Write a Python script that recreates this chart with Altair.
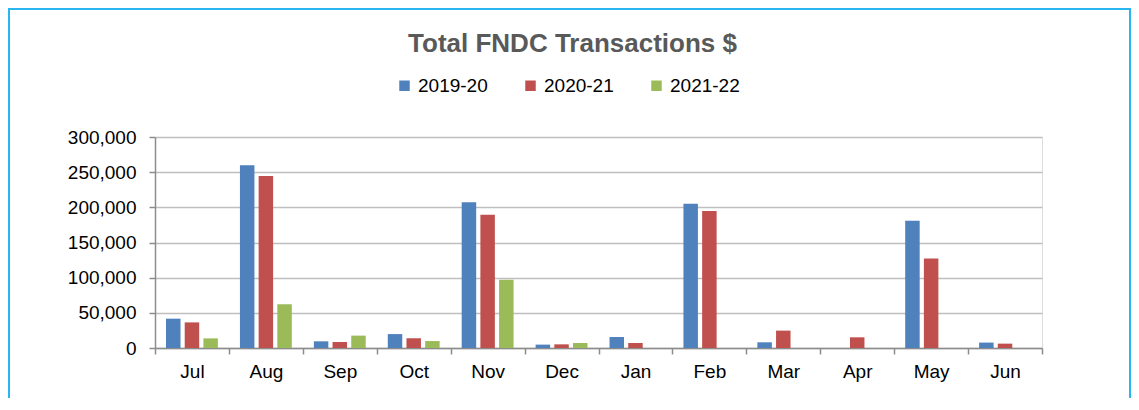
import altair as alt
import pandas as pd

months = ["Jul", "Aug", "Sep", "Oct", "Nov", "Dec", "Jan", "Feb", "Mar", "Apr", "May", "Jun"]
series_names = ["2019-20", "2020-21", "2021-22"]
s2019_20 = [41700, 260000, 9500, 19800, 207400, 4800, 15600, 205000, 8100, None, 181000, 7700]
s2020_21 = [36400, 244700, 8500, 13700, 189500, 5200, 7100, 194700, 24700, 15200, 127100, 6200]
s2021_22 = [13700, 62300, 17600, 9900, 96900, 7100, None, None, None, None, None, None]
colors = ["#4F81BD", "#C0504D", "#9BBB59"]
y_ticks = [0, 50000, 100000, 150000, 200000, 250000, 300000]

rows = []
for name, vals in zip(series_names, [s2019_20, s2020_21, s2021_22]):
    for m, v in zip(months, vals):
        if v is not None:
            rows.append({"Month": m, "Year": name, "Value": v})
df = pd.DataFrame(rows)

FONT = "Liberation Sans"

bars = alt.Chart(df).mark_bar().encode(
    x=alt.X("Month:N", sort=months, title=None,
            scale=alt.Scale(paddingInner=0, paddingOuter=0),
            axis=alt.Axis(labelAngle=0, tickBand="extent", tickSize=6, tickColor="#8C8C8C",
                          domainColor="#8C8C8C", domainWidth=1.5, tickWidth=1.5,
                          labelFontSize=19, labelFont=FONT, labelColor="#000000",
                          labelPadding=8, grid=False)),
    xOffset=alt.XOffset("Year:N", sort=series_names,
                        scale=alt.Scale(paddingInner=0.225, paddingOuter=0.59)),
    y=alt.Y("Value:Q", title=None,
            scale=alt.Scale(domain=[0, 300000], nice=False),
            axis=alt.Axis(values=y_ticks, format=",d", tickSize=6, tickColor="#8C8C8C",
                          domainColor="#8C8C8C", domainWidth=1.5, tickWidth=1.5,
                          gridColor="#BFBFBF", gridWidth=1.5,
                          labelFontSize=19, labelFont=FONT, labelColor="#000000",
                          labelPadding=13)),
    color=alt.Color("Year:N", sort=series_names,
                    scale=alt.Scale(domain=series_names, range=colors),
                    legend=alt.Legend(title=None, orient="none", legendX=240, legendY=-61,
                                      direction="horizontal", symbolType="square",
                                      symbolSize=110, symbolStrokeWidth=0,
                                      labelFontSize=19, labelFont=FONT, labelColor="#000000",
                                      labelOffset=4, columnPadding=33)),
)

border = alt.Chart(alt.Data(values=[{}])).mark_rect(
    fillOpacity=0, stroke="#29B6F0", strokeWidth=2
).encode(
    x=alt.value(-146), x2=alt.value(975), y=alt.value(-128), y2=alt.value(320)
)

chart = alt.layer(border, bars).properties(
    width=887, height=211,
    title=alt.TitleParams(text="Total FNDC Transactions $", frame="group", anchor="middle",
                          offset=-49, dx=-26, fontSize=26, fontWeight="bold",
                          color="#595959", font=FONT),
    autosize=alt.AutoSizeParams(type="none"),
    padding={"left": 147, "top": 129, "right": 89, "bottom": 50},
).configure_view(stroke=None).configure(background="white")

chart.save("out.html", embed_options={"renderer": "svg", "actions": False})
